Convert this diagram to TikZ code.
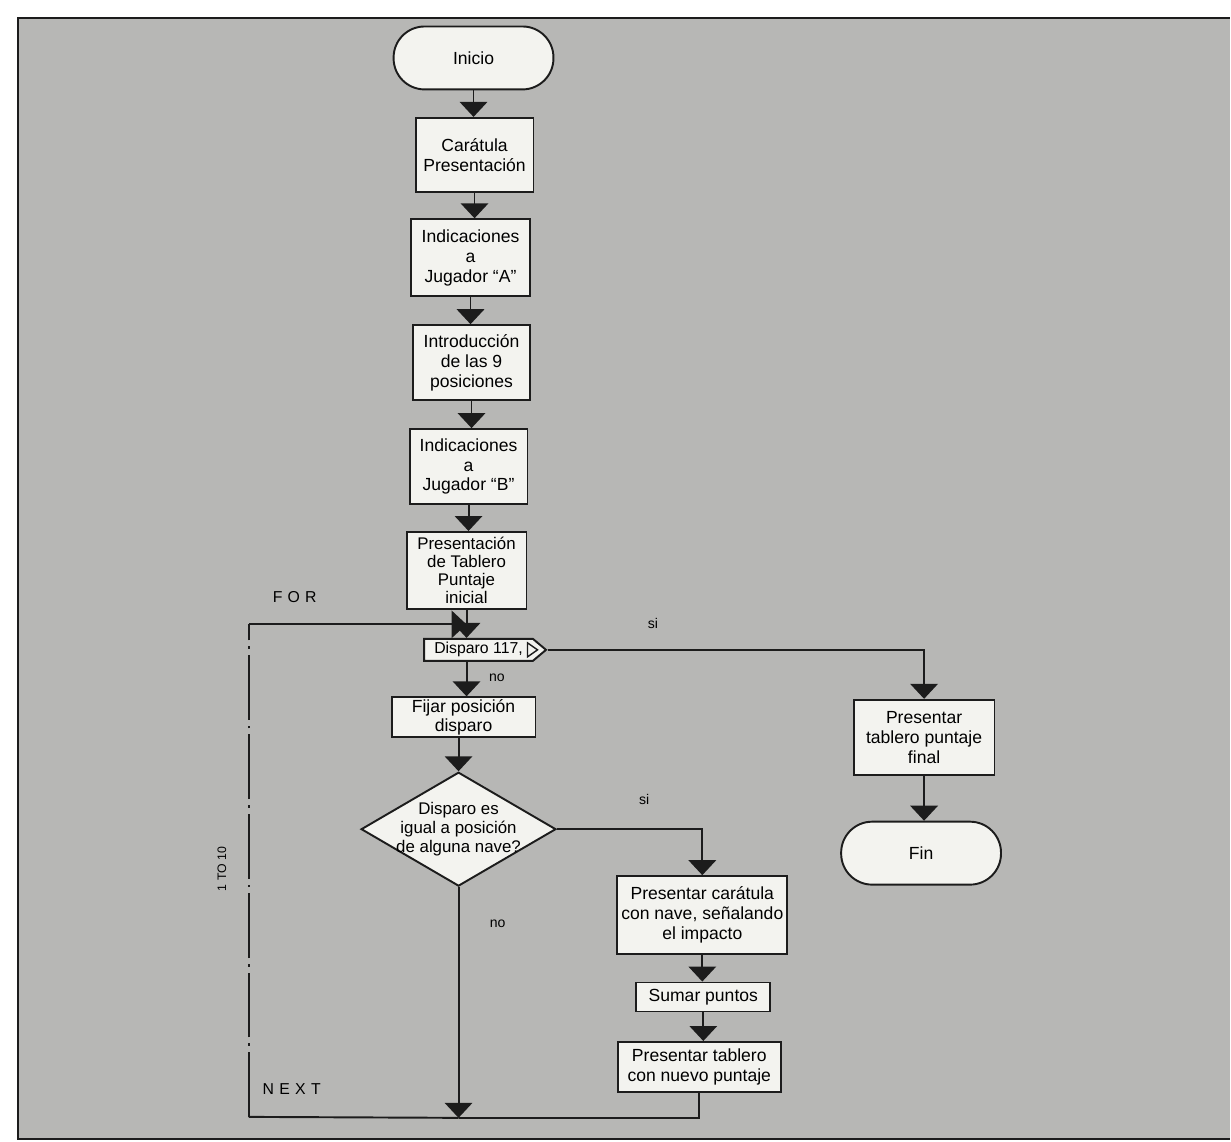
\documentclass[tikz,border=0pt]{standalone}
\usepackage{fontspec}
\setmainfont{Liberation Sans}
\usetikzlibrary{positioning, arrows.meta, shapes.geometric, shapes.symbols, calc}
\definecolor{paper}{HTML}{B7B7B5}
\definecolor{boxfill}{HTML}{F3F3EF}
\definecolor{ink}{HTML}{1C1C1C}

\begin{document}
\begin{tikzpicture}[
    every node/.style={font=\fontsize{10}{11.3}\selectfont},
    block/.style={draw=ink, fill=boxfill, line width=1.1pt, align=center, inner sep=1pt},
    term/.style={block, rounded corners=0.62cm, minimum width=3.2cm, minimum height=1.26cm},
    decide/.style={block, diamond, inner sep=0pt,
                   minimum width=3.9cm, minimum height=2.28cm},
    lbl/.style={font=\fontsize{8}{9}\selectfont},
    loopword/.style={font=\fontsize{9}{10}\selectfont},
    flow/.style={draw=ink, line width=1.1pt, -{Triangle[width=0.55cm,length=0.3cm]}},
    wire/.style={draw=ink, line width=1.1pt},
  ]
  % page and frame
  \fill[white] (0,0) rectangle (24.62,-22.86);
  \fill[paper] (0.36,-0.36) rectangle (24.62,-22.80);
  \draw[ink, line width=1.4pt] (24.62,-0.36) -- (0.36,-0.36) -- (0.36,-22.80) -- (24.62,-22.80);

  % main column
  \node[term]  (inicio) at (9.48,-1.16)  {Inicio};
  \node[block, minimum width=2.36cm, minimum height=1.48cm] (carat) at (9.50,-3.10)
    {Carátula\\Presentación};
  \node[block, minimum width=2.38cm, minimum height=1.54cm] (indA) at (9.42,-5.16)
    {Indicaciones\\a\\Jugador ``A''};
  \node[block, minimum width=2.34cm, minimum height=1.50cm] (intro) at (9.44,-7.26)
    {Introducción\\de las 9\\posiciones};
  \node[block, minimum width=2.36cm, minimum height=1.50cm] (indB) at (9.38,-9.34)
    {Indicaciones\\a\\Jugador ``B''};
  \node[block, minimum width=2.40cm, minimum height=1.54cm, font=\fontsize{9.6}{10.4}\selectfont]
    (tab) at (9.34,-11.42) {Presentación\\de Tablero\\Puntaje\\inicial};
  \node[block, signal, signal to=east, signal pointer angle=80, font=\fontsize{9}{10}\selectfont,
        minimum width=2.44cm, minimum height=0.44cm] (disp) at (9.58,-13.01) {Disparo 117,};
  \draw[ink, fill=boxfill, line width=0.8pt]
    ($(disp.east)+(-0.40,0.14)$) -- ($(disp.east)+(-0.20,0)$) -- ($(disp.east)+(-0.40,-0.14)$) -- cycle;
  \node[block, minimum width=2.88cm, minimum height=0.80cm] (fijar) at (9.28,-14.36)
    {Fijar posición\\disparo};
  \node[decide] (nave) at (9.18,-16.60) {};
  \node[align=center, font=\fontsize{9.6}{10.6}\selectfont] (naveText) at (nave)
    {Disparo es\\igual a posición\\de alguna nave?};

  % hit branch
  \node[block, minimum width=3.40cm, minimum height=1.56cm] (carnav) at (14.06,-18.32)
    {Presentar carátula\\con nave, señalando\\el impacto};
  \node[block, minimum width=2.68cm, minimum height=0.58cm] (sumar) at (14.08,-19.96)
    {Sumar puntos};
  \node[block, minimum width=3.26cm, minimum height=1.00cm] (nuevo) at (14.00,-21.36)
    {Presentar tablero\\con nuevo puntaje};

  % end branch
  \node[block, minimum width=2.82cm, minimum height=1.50cm] (final) at (18.50,-14.76)
    {Presentar\\tablero puntaje\\final};
  \node[term] (fin) at (18.44,-17.08) {Fin};

  % loop labels
  \node[loopword] (for)  at (5.90,-11.96) {F\hspace{3pt}O\hspace{3pt}R};
  \node[loopword] (next) at (5.84,-21.80) {N\hspace{3pt}E\hspace{3pt}X\hspace{3pt}T};
  \node[font=\fontsize{7}{8}\selectfont, rotate=90] (range) at (4.44,-17.40) {1 TO 10};

  \coordinate (join) at ($(nave.south |- nuevo.south)+(0,-0.50)$);
  \coordinate (lb) at (4.98,-22.36);
  \coordinate (lt) at (4.98,-12.50);
  \coordinate (merge) at (tab.south |- lt);

  % connectors
  \draw[flow] (inicio.south) -- (inicio.south |- carat.north);
  \draw[flow] (carat.south) -- (carat.south |- indA.north);
  \draw[flow] (indA.south) -- (indA.south |- intro.north);
  \draw[flow] (intro.south) -- (intro.south |- indB.north);
  \draw[flow] (indB.south) -- (indB.south |- tab.north);
  \draw[flow] (tab.south) -- (tab.south |- disp.north);
  \draw[flow] (disp.south -| tab.south) -- (tab.south |- fijar.north)
    node[lbl, pos=0.45, right=9pt] {no};
  \draw[flow] (fijar.south -| nave.north) -- (nave.north);
  \draw[flow] (disp.east) -| (final.north)
    node[lbl, pos=0.14, above=8pt] {si};
  \draw[flow] (final.south) -- (final.south |- fin.north);
  \draw[flow] (nave.east) -| (carnav.north)
    node[lbl, pos=0.30, above=10pt] {si};
  \draw[flow] (carnav.south) -- (carnav.south |- sumar.north);
  \draw[flow] (sumar.south) -- (sumar.south |- nuevo.north);
  \draw[flow] (nave.south) -- (join)
    node[lbl, pos=0.16, right=14pt] {no};
  \draw[wire] (nuevo.south) |- (join);
  \draw[wire] (join) -- (lb);
  \draw[wire, dash pattern=on 1.3cm off 0.12cm on 0.05cm off 0.12cm] (lb) -- (lt);
  \draw[flow] (lt) -- (merge);
\end{tikzpicture}
\end{document}
